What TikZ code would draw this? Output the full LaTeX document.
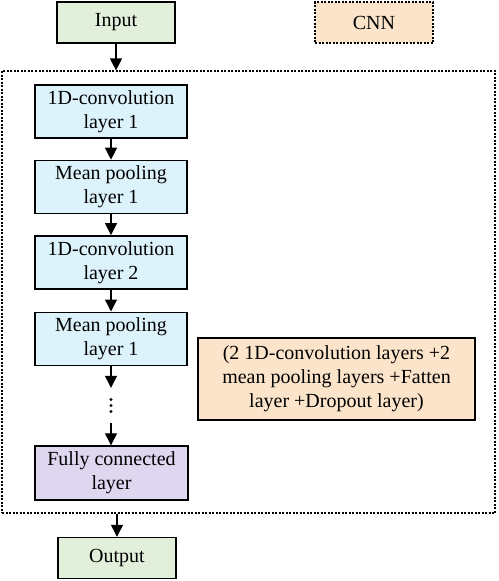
\documentclass[tikz,border=0pt]{standalone}
\usepackage{fontspec}
\setmainfont{Liberation Serif}
\usetikzlibrary{positioning,arrows.meta}
\definecolor{ioGreen}{HTML}{E2EFDA}
\definecolor{convBlue}{HTML}{DDF3FC}
\definecolor{fcPurple}{HTML}{DED7EF}
\definecolor{noteOrange}{HTML}{FCE4CA}

\begin{document}
\begin{tikzpicture}[
    x=1pt, y=-1pt,
    node distance=21pt,
    base/.style={rectangle, draw, line width=1.4pt, align=center, inner sep=0pt, font=\fontsize{20}{24}\selectfont},
    io/.style={base, fill=ioGreen, minimum width=118pt, minimum height=41pt},
    layer/.style={base, fill=convBlue, minimum width=152pt, minimum height=53pt},
    dense/.style={base, fill=fcPurple, minimum width=153pt, minimum height=54pt},
    note/.style={base, fill=noteOrange, minimum width=277pt, minimum height=82pt},
    legend/.style={base, fill=noteOrange, minimum width=118pt, minimum height=41pt, dash pattern=on 2pt off 1.5pt},
    frame/.style={draw, line width=1.2pt, dash pattern=on 2pt off 1.5pt, minimum width=493pt, minimum height=442pt, inner sep=0pt},
    arrow/.style={-{Triangle[width=12pt,length=12pt]}, line width=1.3pt}
]
\useasboundingbox (0,0) rectangle (498,581);

% Top row
\node[io] (input) at (116,22.5) {Input};
\node[legend] (cnn) at (374,22.5) {CNN};

% CNN block
\node[frame] (block) at (248.5,292) {};
\node[layer] (conv1) at (111,111.5) {1D-convolution\\layer 1};
\node[layer, below=of conv1] (pool1) {Mean pooling\\layer 1};
\node[layer, below=of pool1] (conv2) {1D-convolution\\layer 2};
\node[layer, below=22pt of conv2] (pool2) {Mean pooling\\layer 1};
\node[minimum width=10pt, minimum height=35pt, inner sep=0pt] (dots) at (111,405.5) {};
\foreach \dy in {-6,0,6}
    \fill ([yshift=\dy pt]dots.center) circle (1.6pt);
\node[dense] (fc) at (111.5,473) {Fully connected\\layer};
\node[note] (note) at (336.5,379) {(2 1D-convolution layers +2\\mean pooling layers +Fatten\\layer +Dropout layer)};

% Bottom row
\node[io] (output) at (117,558) {Output};

% Arrows
\draw[arrow] (input) -- (input |- block.north);
\draw[arrow] (conv1) -- (pool1);
\draw[arrow] (pool1) -- (conv2);
\draw[arrow] (conv2) -- (pool2);
\draw[arrow] (pool2) -- (dots);
\draw[arrow] (dots) -- (dots |- fc.north);
\draw[arrow] (output |- block.south) -- (output);

\end{tikzpicture}
\end{document}
